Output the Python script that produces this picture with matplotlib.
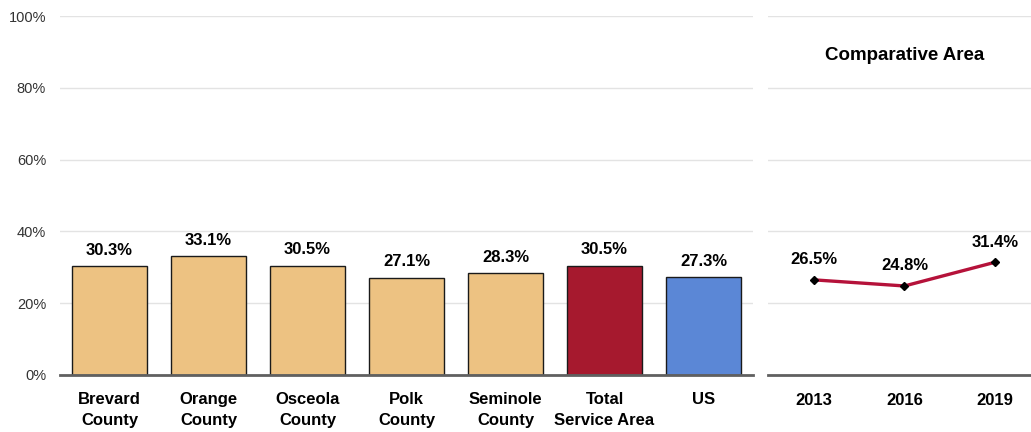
import matplotlib.pyplot as plt
from matplotlib.ticker import FuncFormatter

plt.rcParams['font.family'] = ['Liberation Sans', 'DejaVu Sans']

# bar chart data
areas = ['Brevard\nCounty', 'Orange\nCounty', 'Osceola\nCounty', 'Polk\nCounty',
         'Seminole\nCounty', 'Total\nService Area', 'US']
area_values = [30.3, 33.1, 30.5, 27.1, 28.3, 30.5, 27.3]
bar_colors = ['#EDC282', '#EDC282', '#EDC282', '#EDC282', '#EDC282', '#A6192E', '#5B87D6']

# trend data
years = ['2013', '2016', '2019']
trend_values = [26.5, 24.8, 31.4]

fig = plt.figure(figsize=(10.31, 4.32), dpi=100)
ax = fig.add_axes([60 / 1031, 57 / 432, 693 / 1031, 359 / 432])
ax2 = fig.add_axes([768 / 1031, 57 / 432, 263 / 1031, 359 / 432])

pct = FuncFormatter(lambda v, p: f'{v:.0f}%')

for a in (ax, ax2):
    a.set_ylim(0, 100)
    a.set_yticks(range(0, 101, 20))
    a.grid(axis='y', color='#E3E3E3', linewidth=1)
    a.set_axisbelow(True)
    for s in ('top', 'right', 'left'):
        a.spines[s].set_visible(False)
    a.spines['bottom'].set_color('#606060')
    a.spines['bottom'].set_linewidth(2)
    a.tick_params(axis='both', length=0)

# left: bars
x = range(len(areas))
ax.bar(x, area_values, width=0.76, color=bar_colors, edgecolor='#1a1a1a', linewidth=1)
for i, v in enumerate(area_values):
    ax.annotate(f'{v:.1f}%', (i, v), xytext=(0, 6), textcoords='offset points',
                ha='center', va='bottom', fontsize=12, fontweight='bold')
ax.set_xlim(-0.5, len(areas) - 0.5)
ax.set_xticks(list(x))
ax.set_xticklabels(areas, fontsize=12, fontweight='bold', linespacing=1.5)
ax.tick_params(axis='x', pad=12)
ax.yaxis.set_major_formatter(pct)
ax.tick_params(axis='y', labelsize=10.5, labelcolor='#333333', pad=10)

# right: line
xi = range(len(years))
ax2.plot(list(xi), trend_values, color='#B5123A', linewidth=2.4, marker='D',
         markersize=4.5, markerfacecolor='black', markeredgecolor='black')
for i, v in enumerate(trend_values):
    ax2.annotate(f'{v:.1f}%', (i, v), xytext=(0, 9), textcoords='offset points',
                 ha='center', va='bottom', fontsize=12, fontweight='bold')
ax2.set_xlim(-0.508, 2.398)
ax2.set_xticks(list(xi))
ax2.set_xticklabels(years, fontsize=12, fontweight='bold')
ax2.tick_params(axis='x', pad=13)
ax2.set_yticklabels([])
ax2.text(1, 89, 'Comparative Area', ha='center', va='center', fontsize=13.5,
         fontweight='bold')

fig.savefig('out.png', dpi=100)
